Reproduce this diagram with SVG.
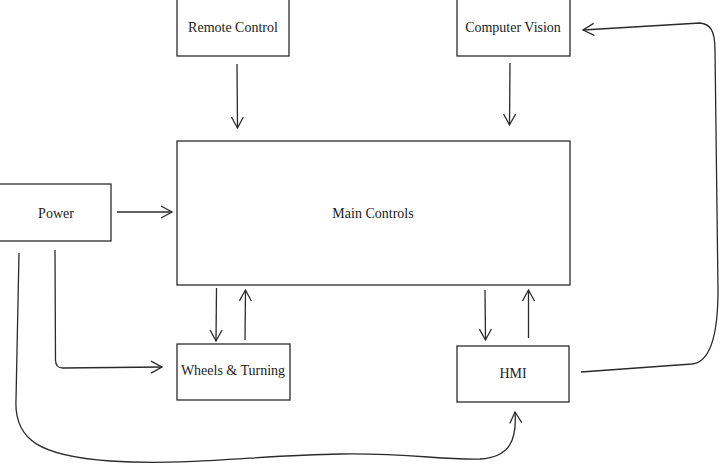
<svg xmlns="http://www.w3.org/2000/svg" width="720" height="465" viewBox="0 0 720 465">
<style>
.box{fill:#fff;stroke:#2b2b2b;stroke-width:1.3}
.lbl{font-family:"Liberation Serif","Times New Roman",serif;font-size:14px;fill:#222;text-anchor:middle;dominant-baseline:central}
.edge{fill:none;stroke:#2b2b2b;stroke-width:1.3;marker-end:url(#arr)}
</style>
<defs>
<marker id="arr" markerUnits="userSpaceOnUse" markerWidth="14" markerHeight="14" viewBox="0 0 14 14" refX="12" refY="7" orient="auto">
<path d="M1,1 L12,7 L1,13" fill="none" stroke="#2b2b2b" stroke-width="1.3"/>
</marker>
</defs>
<rect width="720" height="465" fill="#fff"/>
<g id="remote-control"><rect class="box" x="177" y="-1" width="112" height="57"/><text class="lbl" x="233" y="27">Remote Control</text></g>
<g id="computer-vision"><rect class="box" x="457" y="-1" width="113" height="57"/><text class="lbl" x="513" y="27">Computer Vision</text></g>
<g id="main-controls"><rect class="box" x="177" y="141" width="393" height="144"/><text class="lbl" x="373" y="213">Main Controls</text></g>
<g id="power"><rect class="box" x="-1" y="184" width="112" height="57"/><text class="lbl" x="56" y="213">Power</text></g>
<g id="wheels-turning"><rect class="box" x="177" y="344" width="113" height="56"/><text class="lbl" x="233" y="370">Wheels &amp; Turning</text></g>
<g id="hmi"><rect class="box" x="457" y="346" width="112" height="56"/><text class="lbl" x="513" y="373">HMI</text></g>
<g id="connectors">
<path class="edge" d="M237,64 L237.5,128"/>
<path class="edge" d="M510,63 L509.5,125"/>
<path class="edge" d="M117,212 L172,212"/>
<path class="edge" d="M216.5,288 L216,341"/>
<path class="edge" d="M245,340 L245.5,290"/>
<path class="edge" d="M485,290 L485.5,340"/>
<path class="edge" d="M528.5,338 L528.5,290"/>
<path class="edge" d="M55,250 L55.5,360 Q55.5,368 63,368 L162,367"/>
<path class="edge" d="M19,253 L16,400 C14,440 40,456 110,461 C190,466 260,455 340,454 C410,453 440,460 480,459 C510,457 517,440 515,412"/>
<path class="edge" d="M581,372 L692,364 C712,362 718,330 718,290 L715,50 C715,30 710,24 700,23 L583,30"/>
</g>
</svg>
